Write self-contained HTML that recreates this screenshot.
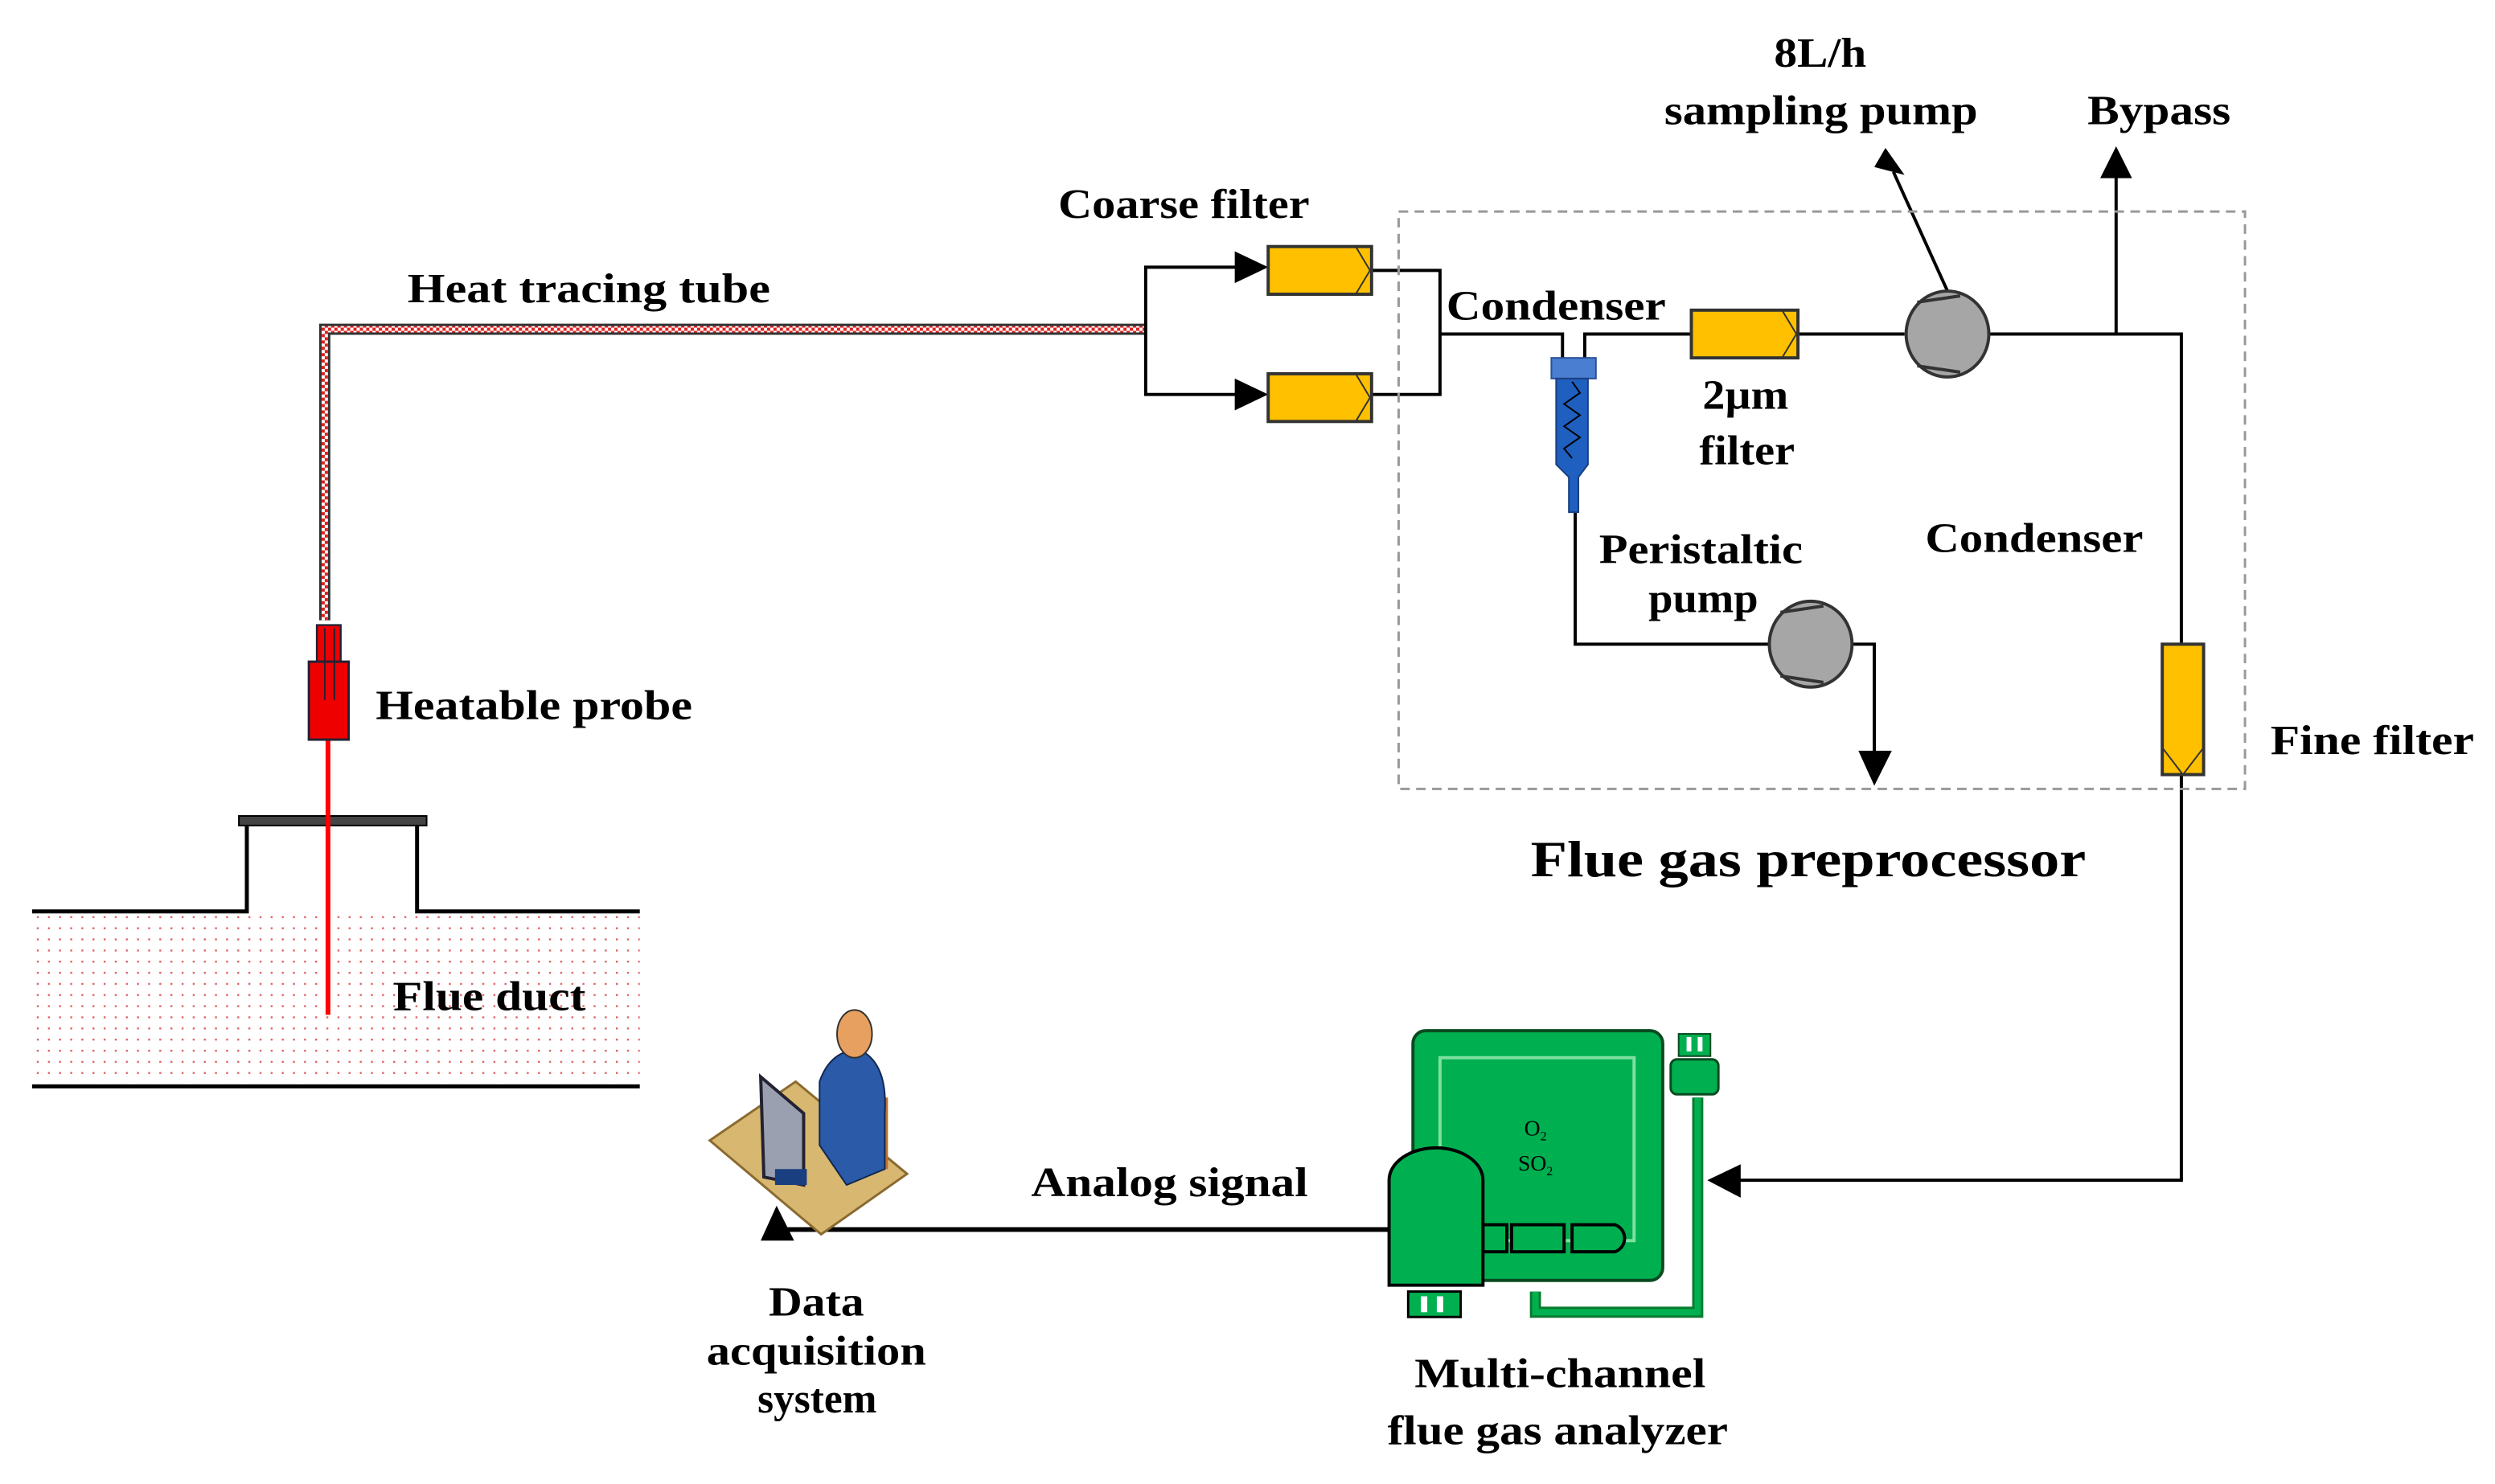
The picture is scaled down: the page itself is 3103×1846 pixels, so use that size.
<!DOCTYPE html>
<html><head><meta charset="utf-8"><style>html,body{margin:0;padding:0;background:#fff}svg{display:block}text{font-family:"Liberation Serif",serif;font-weight:bold;fill:#000}</style></head>
<body>
<svg width="3103" height="1846" viewBox="0 0 1568 933" xmlns="http://www.w3.org/2000/svg">
<defs>
<pattern id="dots" width="7" height="7" patternUnits="userSpaceOnUse"><rect x="2" y="2" width="1.2" height="1.2" fill="#e06060"/></pattern>
<pattern id="stripe" width="4" height="4" patternUnits="userSpaceOnUse"><rect width="4" height="4" fill="#fff"/><rect width="2" height="2" fill="#d22"/><rect x="2" y="2" width="2" height="2" fill="#d22"/></pattern>
</defs>
<rect x="21" y="575" width="381" height="106" fill="url(#dots)"/>
<path d="M20 573 H155 V517 M262 517 V573 H402" fill="none" stroke="#000" stroke-width="2.5"/>
<rect x="150" y="513" width="118" height="6" fill="#444" stroke="#000" stroke-width="1"/>
<line x1="20" y1="683" x2="402" y2="683" stroke="#000" stroke-width="2.5"/>
<line x1="206" y1="462" x2="206" y2="638" stroke="#f00" stroke-width="3"/>
<path d="M204 390 V207 H720" fill="none" stroke="#333" stroke-width="7"/>
<path d="M204 390 V207 H720" fill="none" stroke="url(#stripe)" stroke-width="4"/>
<rect x="199" y="393" width="15" height="25" fill="#e00" stroke="#223" stroke-width="1.2"/>
<rect x="194" y="416" width="25" height="49" fill="#e00" stroke="#223" stroke-width="1.5"/>
<line x1="204" y1="395" x2="204" y2="440" stroke="#223" stroke-width="1"/>
<line x1="210" y1="395" x2="210" y2="440" stroke="#223" stroke-width="1"/>
<g stroke="#000" stroke-width="2" fill="none">
<path d="M720 207 V168 H780 M720 207 V248 H780"/>
<path d="M862 170 H905 V248 H862 M905 210 H982 V225 M996 225 V210 H1063"/>
<path d="M1130 210 H1197 M1250 210 H1371 V405 M1330 210 V110"/>
<path d="M1224 183 L1190 108"/>
<path d="M990 322 V405 H1112 M1164 405 H1178 V475"/>
<path d="M1371 487 V742 H1090"/>
<path d="M490 773 H873" stroke-width="3"/>
</g>
<polygon points="776,158 797,168 776,178" fill="#000"/>
<polygon points="776,238 797,248 776,258" fill="#000"/>
<polygon points="1320,112 1330,92 1340,112" fill="#000"/>
<polygon points="1178,105 1185,93 1197,110" fill="#000"/>
<polygon points="1168,472 1178,494 1189,472" fill="#000"/>
<polygon points="1094,732 1073,742 1094,753" fill="#000"/>
<polygon points="478,780 488,758 499,780" fill="#000"/>
<g fill="#ffc000" stroke="#333" stroke-width="2">
<rect x="797" y="155" width="65" height="30"/>
<rect x="797" y="235" width="65" height="30"/>
<rect x="1063" y="195" width="67" height="30"/>
<rect x="1359" y="405" width="26" height="82"/>
</g>
<g fill="none" stroke="#333" stroke-width="1">
<path d="M852 155 L861 170 L852 185 M852 235 L861 250 L852 265 M1120 195 L1129 210 L1120 225 M1359 470 L1372 487 L1385 470"/>
</g>
<rect x="879" y="133" width="532" height="363" fill="none" stroke="#999" stroke-width="1.5" stroke-dasharray="6,4"/>
<rect x="975" y="225" width="28" height="13" fill="#4a7ed0" stroke="#2a4e9a"/>
<path d="M978 238 H998 V292 L992 300 V322 H986 V300 L978 292 Z" fill="#1f5fbf" stroke="#1a3f80"/>
<path d="M988 240 l5 7 -10 7 10 7 -10 7 10 7 -10 7 5 6" fill="none" stroke="#000" stroke-width="1"/>
<g fill="#a6a6a6" stroke="#333" stroke-width="2">
<ellipse cx="1224" cy="210" rx="26" ry="27"/>
<ellipse cx="1138" cy="405" rx="26" ry="27"/>
</g>
<path d="M1205 190 L1232 186 M1205 230 L1232 234 M1119 385 L1146 381 M1119 425 L1146 429" stroke="#333" stroke-width="2"/>
<path d="M1067 690 V825 H965 V812" fill="none" stroke="#0a7a30" stroke-width="7"/>
<path d="M1067 690 V825 H965 V812" fill="none" stroke="#00b050" stroke-width="4"/>
<rect x="888" y="648" width="157" height="157" rx="8" fill="#00b050" stroke="#0a4a20" stroke-width="2"/>
<rect x="905" y="665" width="122" height="115" fill="none" stroke="#7ee0a0" stroke-width="2"/>
<rect x="1050" y="666" width="30" height="22" rx="4" fill="#00b050" stroke="#0a4a20" stroke-width="1.5"/>
<rect x="1055" y="650" width="20" height="14" fill="#00b050" stroke="#0a4a20"/>
<rect x="1060" y="652" width="3" height="9" fill="#fff"/><rect x="1067" y="652" width="3" height="9" fill="#fff"/>
<g fill="#00b050" stroke="#000" stroke-width="2">
<rect x="932" y="770" width="15" height="17"/><rect x="950" y="770" width="33" height="17"/><path d="M988 770 H1015 a9 9 0 0 1 0 17 H988 Z"/>
</g>
<path d="M873 808 V742 a29 20 0 0 1 59 0 V808 Z" fill="#00b050" stroke="#000" stroke-width="2"/>
<rect x="885" y="812" width="33" height="16" fill="#00b050" stroke="#000" stroke-width="1.5"/>
<rect x="893" y="815" width="4" height="10" fill="#fff"/><rect x="903" y="815" width="4" height="10" fill="#fff"/>
<text x="965" y="714" font-size="14" text-anchor="middle" style="font-weight:normal">O<tspan font-size="8" dy="3">2</tspan></text>
<text x="965" y="736" font-size="14" text-anchor="middle" style="font-weight:normal">SO<tspan font-size="8" dy="3">2</tspan></text>
<polygon points="446,717 500,680 570,738 516,776" fill="#d8b870" stroke="#8a6a30" stroke-width="1.5"/>
<path d="M548 690 h10 v45 h-10 z" fill="#c07030"/>
<path d="M515 720 V680 Q522 660 540 660 Q558 668 556 700 V735 L532 745 Z" fill="#2a5aa8" stroke="#102850"/>
<ellipse cx="537" cy="650" rx="11" ry="15" fill="#e8a060" stroke="#333"/>
<polygon points="478,677 505,700 505,745 480,740" fill="#9aa0b0" stroke="#223" stroke-width="2"/>
<rect x="487" y="735" width="20" height="10" fill="#1a3f80"/>
<g font-size="26" lengthAdjust="spacingAndGlyphs">
<text x="256" y="190" textLength="228" lengthAdjust="spacingAndGlyphs">Heat tracing tube</text>
<text x="236" y="452" textLength="199" lengthAdjust="spacingAndGlyphs">Heatable probe</text>
<text x="247" y="635" textLength="121" lengthAdjust="spacingAndGlyphs">Flue duct</text>
<text x="665" y="137" textLength="158" lengthAdjust="spacingAndGlyphs">Coarse filter</text>
<text x="909" y="201" textLength="138" lengthAdjust="spacingAndGlyphs">Condenser</text>
<text x="1070" y="257" textLength="54" lengthAdjust="spacingAndGlyphs">2µm</text>
<text x="1068" y="292" textLength="60" lengthAdjust="spacingAndGlyphs">filter</text>
<text x="1115" y="42" textLength="58" lengthAdjust="spacingAndGlyphs">8L/h</text>
<text x="1046" y="78" textLength="197" lengthAdjust="spacingAndGlyphs">sampling pump</text>
<text x="1312" y="78" textLength="90" lengthAdjust="spacingAndGlyphs">Bypass</text>
<text x="1210" y="347" textLength="137" lengthAdjust="spacingAndGlyphs">Condenser</text>
<text x="1005" y="354" textLength="128" lengthAdjust="spacingAndGlyphs">Peristaltic</text>
<text x="1036" y="385" textLength="69" lengthAdjust="spacingAndGlyphs">pump</text>
<text x="1427" y="474" textLength="128" lengthAdjust="spacingAndGlyphs">Fine filter</text>
<text x="648" y="752" textLength="174" lengthAdjust="spacingAndGlyphs">Analog signal</text>
<text x="483" y="827" textLength="60" lengthAdjust="spacingAndGlyphs">Data</text>
<text x="444" y="858" textLength="138" lengthAdjust="spacingAndGlyphs">acquisition</text>
<text x="476" y="888" textLength="75" lengthAdjust="spacingAndGlyphs">system</text>
<text x="889" y="872" textLength="183" lengthAdjust="spacingAndGlyphs">Multi-channel</text>
<text x="872" y="908" textLength="214" lengthAdjust="spacingAndGlyphs">flue gas analyzer</text>
</g>
<text x="962" y="551" font-size="32" textLength="349" lengthAdjust="spacingAndGlyphs">Flue gas preprocessor</text>
</svg>
</body></html>
